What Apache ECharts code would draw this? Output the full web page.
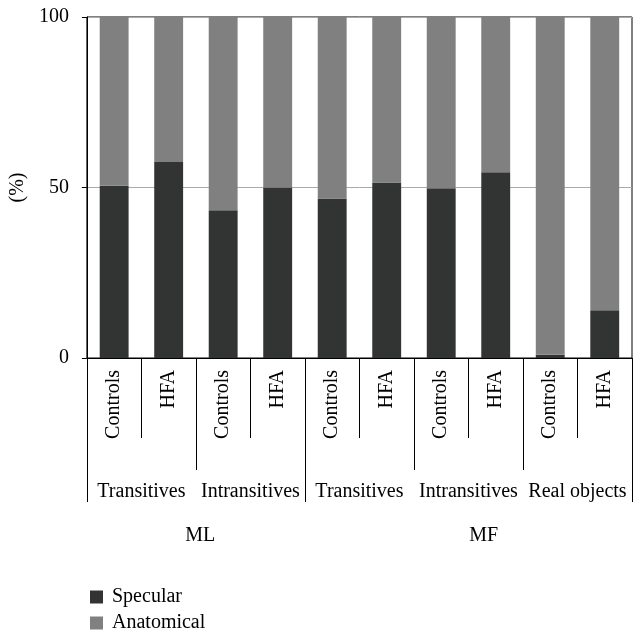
<!DOCTYPE html>
<html><head><meta charset="utf-8">
<script src="https://cdn.jsdelivr.net/npm/echarts@6/dist/echarts.min.js"></script>
<style>html,body{margin:0;padding:0;background:#fff}#c{width:642px;height:636px}</style>
</head><body><div id="c"></div>
<script>
const categories = ['Controls','HFA','Controls','HFA','Controls','HFA','Controls','HFA','Controls','HFA'];
const conditions = ['Transitives','Intransitives','Transitives','Intransitives','Real objects'];
const blocks = ['ML','MF'];
const blockLabelPos = [2.08, 7.28];
const blockBounds = [0, 4, 10];
const specular = [50.5, 57.5, 43.3, 50, 46.8, 51.5, 49.8, 54.5, 1, 14];
const anatomical = [49.5, 42.5, 56.7, 50, 53.2, 48.5, 50.2, 45.5, 99, 86];
const yTicks = [0, 50, 100];

const font = 'Liberation Serif';
const fs = 20;
const chart = echarts.init(document.getElementById('c'));
chart.setOption({
  animation: false,
  textStyle: {fontFamily: font},
  grid: {left: 85, right: 10, top: 17, bottom: 278, show: true, borderColor: '#000', borderWidth: 1, backgroundColor: 'transparent'},
  legend: {
    orient: 'vertical', left: 90, top: 587, padding: 0, itemWidth: 13, itemHeight: 13, itemGap: 6,
    icon: 'rect', textStyle: {fontFamily: font, fontSize: fs, lineHeight: 20, color: '#000', padding: [0, 0, 0, 4]},
    data: ['Specular', 'Anatomical']
  },
  xAxis: [
    {type: 'category', data: categories, position: 'bottom',
     axisLine: {lineStyle: {color: '#000', width: 1}},
     axisTick: {show: true, interval: 0, length: 80, lineStyle: {color: '#000'}},
     axisLabel: {interval: 0, rotate: 90, margin: 12, fontFamily: font, fontSize: fs, color: '#000'}},
    {type: 'category', data: conditions, position: 'bottom',
     axisLine: {show: false},
     axisTick: {show: true, interval: 0, length: 112, lineStyle: {color: '#000'}},
     axisLabel: {interval: 0, margin: 124, fontFamily: font, fontSize: fs, color: '#000'}},
    {type: 'value', min: 0, max: 10, position: 'bottom',
     axisLine: {show: false}, splitLine: {show: false},
     axisTick: {show: true, customValues: blockBounds, length: 144, lineStyle: {color: '#000'}},
     axisLabel: {customValues: blockLabelPos, margin: 168, fontFamily: font, fontSize: fs, color: '#000',
       formatter: v => blocks[blockLabelPos.indexOf(v)] || ''}}
  ],
  yAxis: {
    type: 'value', min: 0, max: 100, interval: 50,
    name: '(%)', nameLocation: 'middle', nameGap: 50, nameRotate: 90,
    nameTextStyle: {fontFamily: font, fontSize: fs, color: '#000'},
    axisLine: {show: true, lineStyle: {color: '#000'}},
    axisTick: {show: true, length: 5, lineStyle: {color: '#000'}},
    axisLabel: {fontFamily: font, fontSize: fs, color: '#000', margin: 18, customValues: yTicks},
    splitLine: {show: true, lineStyle: {color: '#aaa', width: 1}}
  },
  series: [
    {name: 'Specular', type: 'bar', stack: 't', xAxisIndex: 0, data: specular, barWidth: '53%', itemStyle: {color: '#323433'}},
    {name: 'Anatomical', type: 'bar', stack: 't', xAxisIndex: 0, data: anatomical, barWidth: '53%', itemStyle: {color: '#808080'}}
  ]
});
</script></body></html>
